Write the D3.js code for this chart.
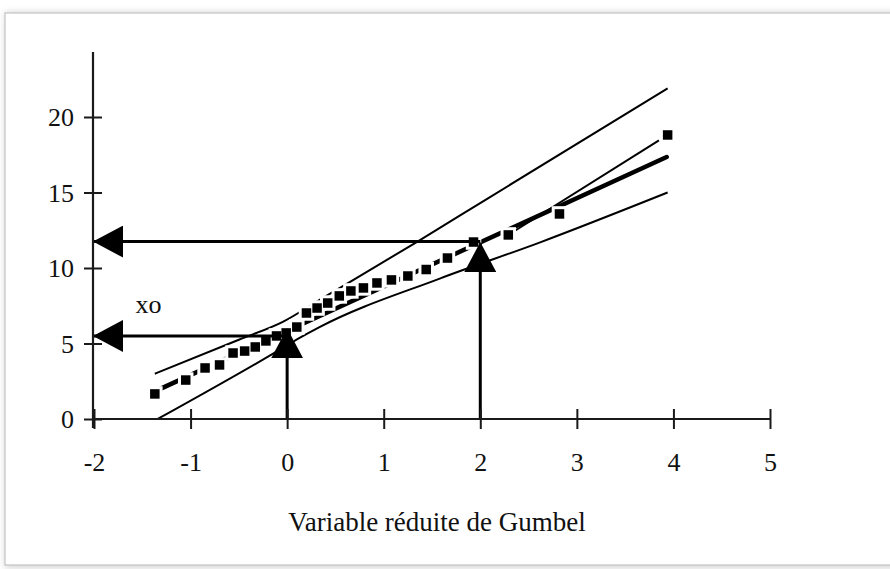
<!DOCTYPE html>
<html>
<head>
<meta charset="utf-8">
<script src="https://cdn.jsdelivr.net/npm/d3@7/dist/d3.min.js"></script>
<style>
  html, body { margin: 0; padding: 0; background: #ffffff; }
  svg { display: block; }
  text { font-family: "Liberation Serif", "Times New Roman", serif; fill: #111; }
</style>
</head>
<body>
<svg id="chart" width="890" height="569"></svg>
<script>
// ---------------- data ----------------
const xTicks = [-2, -1, 0, 1, 2, 3, 4, 5];
const yTicks = [0, 5, 10, 15, 20];

// Gumbel reduced variate of each observation and observed value
const gumbelX = [-1.37, -1.05, -0.85, -0.70, -0.56, -0.44, -0.33, -0.22, -0.11, -0.01,
                 0.10, 0.20, 0.31, 0.42, 0.54, 0.66, 0.79, 0.93, 1.08, 1.25,
                 1.44, 1.66, 1.93, 2.29, 2.82, 3.94];
const observed = [1.66, 2.58, 3.38, 3.58, 4.37, 4.50, 4.77, 5.17, 5.50, 5.70,
                  6.09, 7.02, 7.35, 7.68, 8.15, 8.48, 8.68, 9.01, 9.21, 9.47,
                  9.90, 10.66, 11.72, 12.19, 13.58, 18.81];

// fitted Gumbel line (end points)
const fitX = [-1.37, 3.93];
const fitY = [1.83, 17.35];

// upper and lower confidence limits
const upperX = [-1.37, -0.50, -0.04, 0.34, 1.35, 2.05, 3.94];
const upperY = [3.00, 5.25, 6.45, 7.90, 11.75, 14.50, 21.90];
const lowerX = [-1.34, -0.11, 0.11, 0.34, 1.58, 2.62, 3.94];
const lowerY = [0.00, 4.46, 5.30, 6.10, 9.30, 11.70, 15.00];

// thin line at the upper end of the sample
const tailX = [2.33, 3.85];
const tailY = [12.35, 18.45];

// reading arrows: abscissa, level read on the y axis, tip of vertical arrow
const arrowX = [0, 2];
const arrowLevel = [5.5, 11.75];
const arrowTip = [5.95, 11.65];

const xLabel = "Variable réduite de Gumbel";
const x0Label = "xo";

// ---------------- layout ----------------
const svg = d3.select("#chart");

// frame with soft shadow
const defs = svg.append("defs");
const sh = defs.append("filter").attr("id", "shadow").attr("x", "-5%").attr("y", "-5%").attr("width", "110%").attr("height", "110%");
sh.append("feGaussianBlur").attr("stdDeviation", 3.5);
svg.append("rect").attr("x", 5).attr("y", 12).attr("width", 900).attr("height", 556)
  .attr("fill", "#d6d6d6").attr("filter", "url(#shadow)");
svg.append("rect").attr("x", 5).attr("y", 13).attr("width", 900).attr("height", 552)
  .attr("fill", "#ffffff").attr("stroke", "#c4c4c4").attr("stroke-width", 1.2);

const x = d3.scaleLinear().domain([-2, 5]).range([94, 770]);
const y = d3.scaleLinear().domain([0, 20]).range([419, 117]);

const g = svg.append("g");

// confidence bands
const bandLine = d3.line().x(d => x(d[0])).y(d => y(d[1])).curve(d3.curveMonotoneX);
g.append("path").datum(d3.zip(upperX, upperY)).attr("d", bandLine)
  .attr("fill", "none").attr("stroke", "#000").attr("stroke-width", 2);
g.append("path").datum(d3.zip(lowerX, lowerY)).attr("d", bandLine)
  .attr("fill", "none").attr("stroke", "#000").attr("stroke-width", 2);

// fitted line
const straight = d3.line().x(d => x(d[0])).y(d => y(d[1]));
g.append("path").datum(d3.zip(fitX, fitY)).attr("d", straight)
  .attr("fill", "none").attr("stroke", "#000").attr("stroke-width", 4.5).attr("stroke-linecap", "round");
g.append("path").datum(d3.zip(tailX, tailY)).attr("d", straight)
  .attr("fill", "none").attr("stroke", "#000").attr("stroke-width", 2);

// observations: square markers with white halo
const pts = d3.zip(gumbelX, observed);
const S = 9.5, halo = 3;
g.selectAll("rect.halo").data(pts).join("rect").attr("class", "halo")
  .attr("x", d => x(d[0]) - S / 2 - halo).attr("y", d => y(d[1]) - S / 2 - halo)
  .attr("width", S + 2 * halo).attr("height", S + 2 * halo).attr("fill", "#fff");
g.selectAll("rect.pt").data(pts).join("rect").attr("class", "pt")
  .attr("x", d => x(d[0]) - S / 2).attr("y", d => y(d[1]) - S / 2)
  .attr("width", S).attr("height", S).attr("fill", "#000");

// arrow marker
defs.append("marker").attr("id", "head")
  .attr("markerUnits", "userSpaceOnUse")
  .attr("viewBox", "0 0 30 32").attr("refX", 29).attr("refY", 16)
  .attr("markerWidth", 30).attr("markerHeight", 32).attr("orient", "auto")
  .append("path").attr("d", "M0,0 L30,16 L0,32 Z").attr("fill", "#000");

arrowX.forEach((ax, i) => {
  g.append("line")
    .attr("x1", x(ax)).attr("y1", y(arrowLevel[i]))
    .attr("x2", x(-2)).attr("y2", y(arrowLevel[i]))
    .attr("stroke", "#000").attr("stroke-width", 3).attr("marker-end", "url(#head)");
  g.append("line")
    .attr("x1", x(ax)).attr("y1", y(0))
    .attr("x2", x(ax)).attr("y2", y(arrowTip[i]))
    .attr("stroke", "#000").attr("stroke-width", 3).attr("marker-end", "url(#head)");
});

// axes
const axisG = svg.append("g");
const xAxis = d3.axisBottom(x).tickValues(xTicks).tickFormat(d3.format("d")).tickSize(10).tickPadding(0);
const xa = axisG.append("g").attr("transform", `translate(0,${y(0)})`).call(xAxis);
xa.select(".domain").remove();
xa.append("line").attr("x1", x(-2) - 1).attr("x2", x(5)).attr("stroke", "#1a1a1a").attr("stroke-width", 2.2);
xa.selectAll(".tick line").attr("y1", -10).attr("y2", 10).attr("stroke", "#1a1a1a").attr("stroke-width", 2);
xa.selectAll(".tick text").attr("y", 52).attr("dy", null).attr("font-size", 26)
  .attr("font-family", "'Liberation Serif', 'Times New Roman', serif").attr("fill", "#111")
  .text(d => d < 0 ? "-" + Math.abs(d) : d);

const yAxis = d3.axisLeft(y).tickValues(yTicks).tickFormat(d3.format("d")).tickSize(9).tickPadding(0);
const ya = axisG.append("g").attr("transform", `translate(${x(-2) - 1},0)`).call(yAxis);
ya.select(".domain").remove();
ya.append("line").attr("y1", y(0) + 9).attr("y2", y(24.3)).attr("stroke", "#1a1a1a").attr("stroke-width", 2.2);
ya.selectAll(".tick line").attr("x1", -9).attr("x2", 9).attr("stroke", "#1a1a1a").attr("stroke-width", 2);
ya.selectAll(".tick text").attr("x", -19).attr("dy", "0.34em").attr("font-size", 26)
  .attr("font-family", "'Liberation Serif', 'Times New Roman', serif").attr("fill", "#111");

// labels
svg.append("text").attr("x", (x(-2) + x(5)) / 2 + 5).attr("y", 531)
  .attr("text-anchor", "middle").attr("font-size", 27).text(xLabel);
svg.append("text").attr("x", x(-1.57)).attr("y", y(7.05))
  .attr("font-size", 26).text(x0Label);
</script>
</body>
</html>
